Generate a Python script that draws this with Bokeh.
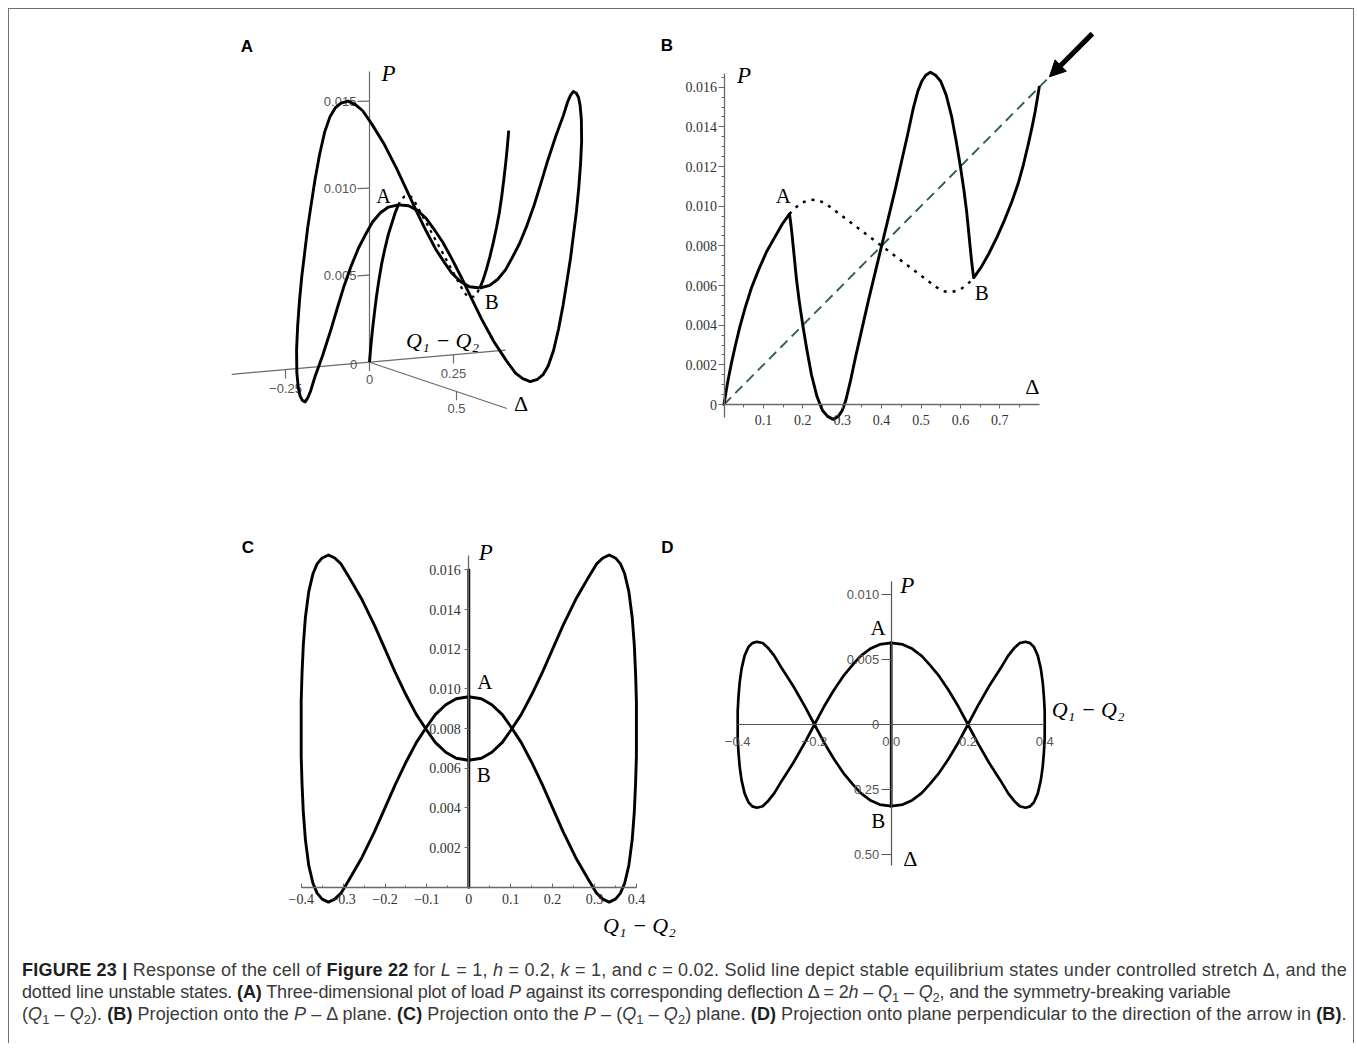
import numpy as np
from bokeh.plotting import figure
from bokeh.models import (Range1d, LinearAxis, FixedTicker, CustomJSTickFormatter,
                          Arrow, NormalHead, Spacer, Div)
from bokeh.layouts import row, column
from bokeh.embed import file_html
from bokeh.resources import INLINE
from bokeh.core.properties import value

# ===================== DATA =====================
# fundamental (symmetric, Q1 = Q2) path, stable loading part  O -> A
sym_load_delta = [0.000, 0.004, 0.010, 0.018, 0.028, 0.040, 0.054, 0.070, 0.088, 0.108, 0.128, 0.148, 0.166]
sym_load_P     = [0.0000, 0.0005, 0.0012, 0.0020, 0.0029, 0.0039, 0.0049, 0.0059, 0.0068, 0.0077, 0.0084, 0.0091, 0.0096]
# fundamental path, stable final part  B -> end
sym_end_delta  = [0.634, 0.652, 0.672, 0.692, 0.712, 0.730, 0.746, 0.760, 0.772, 0.782, 0.790, 0.796, 0.800]
sym_end_P      = [0.0064, 0.0069, 0.0076, 0.0084, 0.0093, 0.0102, 0.0111, 0.0121, 0.0131, 0.0140, 0.0148, 0.0155, 0.0160]
# fundamental path, unstable part (dotted)  A -> B
unstable_delta = [0.166, 0.18, 0.20, 0.22, 0.24, 0.26, 0.28, 0.30, 0.32, 0.34, 0.36, 0.38, 0.40,
                  0.42, 0.44, 0.46, 0.48, 0.50, 0.52, 0.54, 0.56, 0.58, 0.60, 0.62, 0.634]
unstable_P     = [0.0096, 0.0099, 0.0102, 0.01032, 0.0103, 0.0101, 0.0098, 0.0095, 0.0092, 0.0089, 0.0086, 0.0083, 0.0080,
                  0.0077, 0.0074, 0.0071, 0.0068, 0.0065, 0.0062, 0.0059, 0.0057, 0.00568, 0.0058, 0.0061, 0.0064]
# symmetry-breaking (asymmetric) branch A -> B ; Q1-Q2 >= 0 (mirror branch has -(Q1-Q2))
asym_delta = [0.166, 0.167, 0.169, 0.172, 0.175, 0.179, 0.184, 0.191, 0.200, 0.210,
              0.222, 0.236, 0.250, 0.263, 0.277, 0.290, 0.300, 0.309, 0.320, 0.334,
              0.350, 0.366, 0.383, 0.400, 0.417, 0.434, 0.450, 0.466, 0.480, 0.492,
              0.502, 0.512, 0.524, 0.537, 0.550, 0.564, 0.578, 0.590, 0.600, 0.609,
              0.616, 0.621, 0.625, 0.628, 0.631, 0.633, 0.634]
asym_P = [0.0096, 0.0095, 0.0092, 0.0087, 0.0081, 0.0073, 0.0063, 0.0052, 0.0040, 0.0028,
          0.0015, 0.0004, -0.0003, -0.0006, -0.00075, -0.0006, -0.0003, 0.0002, 0.0011, 0.0024,
          0.0038, 0.0052, 0.0066, 0.0080, 0.0094, 0.0108, 0.0122, 0.0136, 0.0149, 0.0158,
          0.0163, 0.0166, 0.01675, 0.0166, 0.0163, 0.0156, 0.0145, 0.0132, 0.0120, 0.0108,
          0.0097, 0.0087, 0.0079, 0.0073, 0.0068, 0.0065, 0.0064]
asym_q = [0.000, 0.030, 0.055, 0.080, 0.100, 0.125, 0.150, 0.175, 0.200, 0.225,
          0.255, 0.285, 0.305, 0.320, 0.335, 0.350, 0.362, 0.372, 0.382, 0.390,
          0.395, 0.398, 0.400, 0.400, 0.400, 0.398, 0.395, 0.390, 0.382, 0.372,
          0.362, 0.350, 0.335, 0.320, 0.305, 0.285, 0.255, 0.225, 0.200, 0.175,
          0.150, 0.125, 0.100, 0.080, 0.055, 0.030, 0.000]
# point A and point B (bifurcation points)
point_A = (0.166, 0.0, 0.0096)   # (Delta, Q1-Q2, P)
point_B = (0.634, 0.0, 0.0064)
# arrow direction in (B): P = c * Delta, c = 0.02
arrow_c = 0.02
dash_delta = [0.0, 0.826]
dash_P = [0.0, 0.01652]
arrow_tail = (0.935, 0.0187)
arrow_tip = (0.826, 0.01652)

# ticks
B_xticks = [0.1, 0.2, 0.3, 0.4, 0.5, 0.6, 0.7]
B_yticks = [0.0, 0.002, 0.004, 0.006, 0.008, 0.010, 0.012, 0.014, 0.016]
C_xticks = [-0.4, -0.3, -0.2, -0.1, 0.0, 0.1, 0.2, 0.3, 0.4]
C_yticks = [0.002, 0.004, 0.006, 0.008, 0.010, 0.012, 0.014, 0.016]
D_xticks = [-0.4, -0.2, 0.0, 0.2, 0.4]
D_xlabels = ["\u22120.4", "\u22120.2", "0.0", "0.2", "0.4"]
D_yticks = [-0.010, -0.005, 0.0, 0.005, 0.010]
D_ylabels = ["0.50", "0.25", "0", "0.005", "0.010"]
A_Pticks = [0.005, 0.010, 0.015]
A_Plabels = ["0.005", "0.010", "0.015"]
A_Qticks = [-0.25, 0.25]
A_Qlabels = ["\u22120.25", "0.25"]
A_Dticks = [0.0, 0.5]
A_Dlabels = ["0", "0.5"]

# ===================== STYLE / LAYOUT =====================
SERIF = "Liberation Serif"
SANS = "Liberation Sans"
AX = "#6a6a6a"
LW = 2.9
QLAB = "Q\u2081 \u2212 Q\u2082"


class PageMap:
    """maps page pixels <-> data for a figure whose frame is the whole box"""
    def __init__(self, box, x0, sx, y0, sy):
        self.l, self.t, self.w, self.h = box
        self.x0, self.sx, self.y0, self.sy = x0, sx, y0, sy

    def X(self, px):
        return (px - self.x0) / self.sx

    def Y(self, py):
        return (self.y0 - py) / self.sy

    def px(self, x):
        return self.x0 + x * self.sx

    def py(self, y):
        return self.y0 - y * self.sy

    def fig(self):
        p = figure(width=self.w, height=self.h,
                   x_range=Range1d(self.X(self.l), self.X(self.l + self.w)),
                   y_range=Range1d(self.Y(self.t + self.h), self.Y(self.t)),
                   x_axis_type=None, y_axis_type=None, toolbar_location=None,
                   output_backend="svg", min_border=0, outline_line_color=None,
                   background_fill_color="white", border_fill_color="white")
        return p

    def txt(self, p, pxs, pys, texts, font=SERIF, size="21px", style="normal",
            align="center", baseline="middle", color="black"):
        p.text(x=[self.X(v) for v in pxs], y=[self.Y(v) for v in pys], text=texts,
               text_font=value(font), text_font_size=value(size), text_font_style=style,
               text_align=align, text_baseline=baseline, text_color=color)


def panel_letter(m, p, letter, cx, cy):
    m.txt(p, [cx], [cy], [letter], font=SANS, size="17px", style="bold")


def ptlabel(m, p, x, y, dx, dy, text):
    m.txt(p, [m.px(x) + dx], [m.py(y) + dy], [text], font=SERIF, size="21px")


def curve(p, x, y, width=LW):
    p.line(x, y, line_color="black", line_width=width, line_join="round", line_cap="round")


def dotted(p, x, y):
    p.line(x, y, line_color="black", line_width=2.5, line_dash="3 6")


# ---------------- panel A : 3-D view ----------------
mA = PageMap((209, 9, 420, 436), 0.0, 1.0, 0.0, -1.0)   # data units = page pixels
A_O = (369.0, 361.7)
A_ED = (174.0, 58.6)      # page px per unit Delta
A_EQ = (336.0, -29.6)     # page px per unit (Q1-Q2)
A_EP = 17400.0            # page px per unit P (upwards)
A_NEAR = 0.105            # slight enlargement of the near (Q1-Q2 < 0) side


def projA(d, q, P):
    d = np.asarray(d, float)
    q = np.asarray(q, float)
    P = np.asarray(P, float)
    sP = A_EP * (1.0 + A_NEAR * np.maximum(-q, 0.0))
    px = A_O[0] + A_ED[0] * d + A_EQ[0] * q
    py = A_O[1] + A_ED[1] * d + A_EQ[1] * q - sP * P
    return px, py


pA = mA.fig()


def lineA(d, q, P, **kw):
    px, py = projA(d, q, P)
    pA.line([mA.X(v) for v in px], [mA.Y(v) for v in py], **kw)


# axes
lineA([0, 0], [0, 0], [0, 0.0167], line_color=AX, line_width=1.2)
lineA([0, 0], [-0.41, 0.405], [0, 0], line_color=AX, line_width=1.2)
lineA([0, 0.79], [0, 0], [0, 0], line_color=AX, line_width=1.2)
for t in A_Pticks:
    lineA([0, 0], [0, -0.036], [t, t], line_color=AX, line_width=1.2)
for t in A_Qticks:
    lineA([0, 0], [t, t], [0, -0.0005], line_color=AX, line_width=1.2)
for t in A_Dticks:
    lineA([t, t], [0, 0], [0, -0.0005], line_color=AX, line_width=1.2)
tx, ty = projA([0] * 3, [-0.036] * 3, A_Pticks)
mA.txt(pA, list(tx - 1), list(ty), A_Plabels, font=SANS, size="13px", align="right", color="#555")
tx, ty = projA([0] * 2, A_Qticks, [-0.0005] * 2)
mA.txt(pA, list(tx), list(ty + 5), A_Qlabels, font=SANS, size="13px", baseline="top", color="#555")
tx, ty = projA(A_Dticks, [0] * 2, [-0.0005] * 2)
mA.txt(pA, list(tx), list(ty + 4), A_Dlabels, font=SANS, size="13px", baseline="top", color="#555")
ox, oy = projA(0, 0, 0)
mA.txt(pA, [float(ox) - 16], [float(oy) + 2], ["0"], font=SANS, size="13px", color="#555")
# curves
lineA(unstable_delta, [0] * len(unstable_delta), unstable_P, line_color="black", line_width=2.3, line_dash="3 5")
lineA(sym_load_delta, [0] * len(sym_load_delta), sym_load_P, line_color="black", line_width=LW, line_join="round")
lineA(sym_end_delta, [0] * len(sym_end_delta), sym_end_P, line_color="black", line_width=LW, line_join="round")
lineA(asym_delta, asym_q, asym_P, line_color="black", line_width=LW, line_join="round")
lineA(asym_delta, [-v for v in asym_q], asym_P, line_color="black", line_width=LW, line_join="round")
# labels
ax_, ay_ = projA(*point_A)
bx_, by_ = projA(*point_B)
mA.txt(pA, [float(ax_) - 15], [float(ay_) - 9], ["A"], size="20px")
mA.txt(pA, [float(bx_) + 12], [float(by_) + 14], ["B"], size="21px")
tx, ty = projA(0, 0, 0.0167)
mA.txt(pA, [float(tx) + 19], [float(ty) + 2], ["P"], size="23px", style="italic")
tx, ty = projA(0, 0.405, 0)
mA.txt(pA, [float(tx) - 63], [float(ty) - 10], [QLAB], size="22px", style="italic")
tx, ty = projA(0.79, 0, 0)
mA.txt(pA, [float(tx) + 14], [float(ty) - 5], ["\u0394"], size="22px")
panel_letter(mA, pA, "A", 246.5, 46)

# ---------------- panel B : P - Delta ----------------
mB = PageMap((629, 9, 500, 436), 723.5, 394.0, 404.0, 19833.0)
pB = mB.fig()
xB = LinearAxis(fixed_location=0, bounds=(0, 0.8),
                ticker=FixedTicker(ticks=B_xticks, minor_ticks=[i * 0.05 for i in range(1, 16)]),
                formatter=CustomJSTickFormatter(code="return tick.toFixed(1);"))
yB = LinearAxis(fixed_location=0, bounds=(-0.00065, 0.0167),
                ticker=FixedTicker(ticks=B_yticks, minor_ticks=[i * 0.0005 for i in range(0, 34)]),
                formatter=CustomJSTickFormatter(code="return tick == 0 ? '0' : tick.toFixed(3);"))
for ax in (xB, yB):
    ax.axis_line_color = AX
    ax.axis_line_width = 1.3
    ax.major_tick_line_color = AX
    ax.minor_tick_line_color = AX
    ax.major_tick_in = 0
    ax.minor_tick_in = 0
    ax.major_label_text_font = SERIF
    ax.major_label_text_font_size = "14px"
    ax.major_label_text_color = "#333333"
xB.major_tick_out = 4
xB.minor_tick_out = 3
xB.major_label_standoff = 6
yB.major_tick_out = 6
yB.minor_tick_out = 3
yB.major_label_standoff = 1
pB.add_layout(xB, "below")
pB.add_layout(yB, "left")
pB.line(dash_delta, dash_P, line_color="#2d5e59", line_width=1.9, line_dash="10 6")
dotted(pB, unstable_delta, unstable_P)
curve(pB, sym_load_delta, sym_load_P)
curve(pB, sym_end_delta, sym_end_P)
curve(pB, asym_delta, asym_P)
pB.add_layout(Arrow(end=NormalHead(size=16, fill_color="black", line_color="black"),
                    x_start=arrow_tail[0], y_start=arrow_tail[1],
                    x_end=arrow_tip[0], y_end=arrow_tip[1],
                    line_color="black", line_width=5))
ptlabel(mB, pB, point_A[0], point_A[2], -6, -18, "A")
ptlabel(mB, pB, point_B[0], point_B[2], 8, 15, "B")
mB.txt(pB, [mB.px(0) + 20], [mB.py(0.0167) + 2], ["P"], size="23px", style="italic")
mB.txt(pB, [mB.px(0.8) - 7], [mB.py(0) - 18], ["\u0394"], size="22px")
panel_letter(mB, pB, "B", 666.5, 45)

# ---------------- panel C : P - (Q1-Q2) ----------------
mC = PageMap((209, 445, 480, 495), 468.3, 419.0, 886.7, 19835.0)
pC = mC.fig()
xC = LinearAxis(fixed_location=0, bounds=(-0.4, 0.4),
                ticker=FixedTicker(ticks=C_xticks, minor_ticks=[-0.4 + i * 0.05 for i in range(0, 17)]),
                formatter=CustomJSTickFormatter(
                    code="if (Math.abs(tick) < 1e-9) return '0'; return (tick < 0 ? '\u2212' : '') + Math.abs(tick).toFixed(1);"))
yC = LinearAxis(fixed_location=0, bounds=(0, 0.0167),
                ticker=FixedTicker(ticks=C_yticks, minor_ticks=[]),
                formatter=CustomJSTickFormatter(code="return tick.toFixed(3);"))
for ax in (xC, yC):
    ax.axis_line_color = AX
    ax.axis_line_width = 1.3
    ax.major_tick_line_color = AX
    ax.minor_tick_line_color = AX
    ax.major_label_text_font = SERIF
    ax.major_label_text_font_size = "14px"
    ax.major_label_text_color = "#333333"
xC.major_tick_in = 4
xC.major_tick_out = 0
xC.minor_tick_in = 2
xC.minor_tick_out = 0
xC.major_label_standoff = 7
yC.major_tick_in = 0
yC.major_tick_out = 4
yC.minor_tick_out = 0
yC.major_label_standoff = 4
pC.add_layout(xC, "below")
pC.add_layout(yC, "left")
curve(pC, asym_q, asym_P)
curve(pC, [-v for v in asym_q], asym_P)
curve(pC, [0] * len(sym_load_P), sym_load_P)
curve(pC, [0] * len(sym_end_P), sym_end_P)
ptlabel(mC, pC, point_A[1], point_A[2], 16, -15, "A")
ptlabel(mC, pC, point_B[1], point_B[2], 15, 15, "B")
mC.txt(pC, [mC.px(0) + 17], [mC.py(0.0167) - 3], ["P"], size="23px", style="italic")
mC.txt(pC, [mC.px(0.4) + 3], [mC.py(0) + 38], [QLAB], size="22px", style="italic")
panel_letter(mC, pC, "C", 247.5, 546.5)
panel_letter(mC, pC, "D", 667, 546.5)     # letter of panel D sits left of its plot box

# ---------------- panel D : projection normal to the arrow ----------------
mD = PageMap((689, 445, 500, 495), 890.7, 383.75, 724.0, 13000.0)
pD = mD.fig()


def vD(delta, P):
    return [pp - arrow_c * dd for dd, pp in zip(delta, P)]


xD = LinearAxis(fixed_location=0, bounds=(-0.4, 0.4), ticker=FixedTicker(ticks=D_xticks, minor_ticks=[]),
                formatter=CustomJSTickFormatter(args=dict(tv=D_xticks, lab=D_xlabels), code="""
let b = 0; for (let i = 0; i < tv.length; i++) { if (Math.abs(tv[i] - tick) < Math.abs(tv[b] - tick)) b = i; }
return lab[b];"""))
yD = LinearAxis(fixed_location=0, bounds=(-0.01085, 0.011), ticker=FixedTicker(ticks=D_yticks, minor_ticks=[]),
                formatter=CustomJSTickFormatter(args=dict(tv=D_yticks, lab=D_ylabels), code="""
let b = 0; for (let i = 0; i < tv.length; i++) { if (Math.abs(tv[i] - tick) < Math.abs(tv[b] - tick)) b = i; }
return lab[b];"""))
for ax in (xD, yD):
    ax.axis_line_color = "#555555"
    ax.axis_line_width = 1.2
    ax.major_tick_line_color = "#555555"
    ax.major_tick_in = 0
    ax.major_label_text_font = SANS
    ax.major_label_text_font_size = "13px"
    ax.major_label_text_color = "#555555"
xD.major_tick_out = 0
xD.major_label_standoff = 12
yD.major_tick_out = 10
yD.major_label_standoff = 2
pD.add_layout(xD, "below")
pD.add_layout(yD, "left")
curve(pD, asym_q, vD(asym_delta, asym_P), 2.7)
curve(pD, [-v for v in asym_q], vD(asym_delta, asym_P), 2.7)
curve(pD, [0] * len(sym_load_P), vD(sym_load_delta, sym_load_P), 2.7)
curve(pD, [0] * len(sym_end_P), vD(sym_end_delta, sym_end_P), 2.7)
vA = point_A[2] - arrow_c * point_A[0]
vB = point_B[2] - arrow_c * point_B[0]
ptlabel(mD, pD, 0, vA, -13, -15, "A")
ptlabel(mD, pD, 0, vB, -13, 15, "B")
mD.txt(pD, [mD.px(0) + 16], [mD.py(0.011) + 4], ["P"], size="23px", style="italic")
mD.txt(pD, [mD.px(0) + 19], [mD.py(-0.01085) - 7], ["\u0394"], size="22px")
mD.txt(pD, [mD.px(0.4) + 7], [mD.py(0) - 15], [QLAB], size="22px", style="italic", align="left")

# ---------------- caption ----------------
SUB = '<sub style="font-size:72%;vertical-align:-0.3em;line-height:0">'
BS = '<b style="color:#1e1e1e">'
line1 = (BS + 'FIGURE 23 |</b> Response of the cell of ' + BS + 'Figure 22</b> for '
         '<i>L</i> = 1, <i>h</i> = 0.2, <i>k</i> = 1, and <i>c</i> = 0.02. Solid line depict stable equilibrium states '
         'under controlled stretch &Delta;, and the')
line2 = ('dotted line unstable states. ' + BS + '(A)</b> Three-dimensional plot of load <i>P</i> against its '
         'corresponding deflection &Delta; = 2<i>h</i> &ndash; <i>Q</i>' + SUB + '1</sub> &ndash; <i>Q</i>' + SUB + '2</sub>, '
         'and the symmetry-breaking variable')
line3 = ('(<i>Q</i>' + SUB + '1</sub> &ndash; <i>Q</i>' + SUB + '2</sub>). ' + BS + '(B)</b> Projection onto the '
         '<i>P</i> &ndash; &Delta; plane. ' + BS + '(C)</b> Projection onto the <i>P</i> &ndash; '
         '(<i>Q</i>' + SUB + '1</sub> &ndash; <i>Q</i>' + SUB + '2</sub>) plane. ' + BS + '(D)</b> Projection onto '
         'plane perpendicular to the direction of the arrow in ' + BS + '(B)</b>.')
cap = (
    '<div style="font-family:\'Liberation Sans\',Arial,sans-serif;font-size:18px;'
    'line-height:22px;color:#3a3a3a;white-space:nowrap;padding:14px 0 0 8px;margin:0">'
    '<div style="letter-spacing:0.23px">' + line1 + '</div>'
    '<div style="letter-spacing:-0.14px">' + line2 + '</div>'
    '<div style="letter-spacing:0.07px">' + line3 + '</div>'
    '</div>'
)
caption = Div(text=cap, width=1346, height=93, styles={"overflow": "hidden"})

row1 = row(Spacer(width=200, height=436), pA, pB, Spacer(width=226, height=436))
row2 = row(Spacer(width=200, height=495), pC, pD, Spacer(width=166, height=495))
root = column(row1, row2, caption, width=1346,
              styles={"border-left": "1px solid #707070", "border-top": "1px solid #707070",
                      "border-right": "1px solid #707070", "margin-left": "8px", "margin-top": "8px"})

open("out.html", "w").write(file_html(root, INLINE))
